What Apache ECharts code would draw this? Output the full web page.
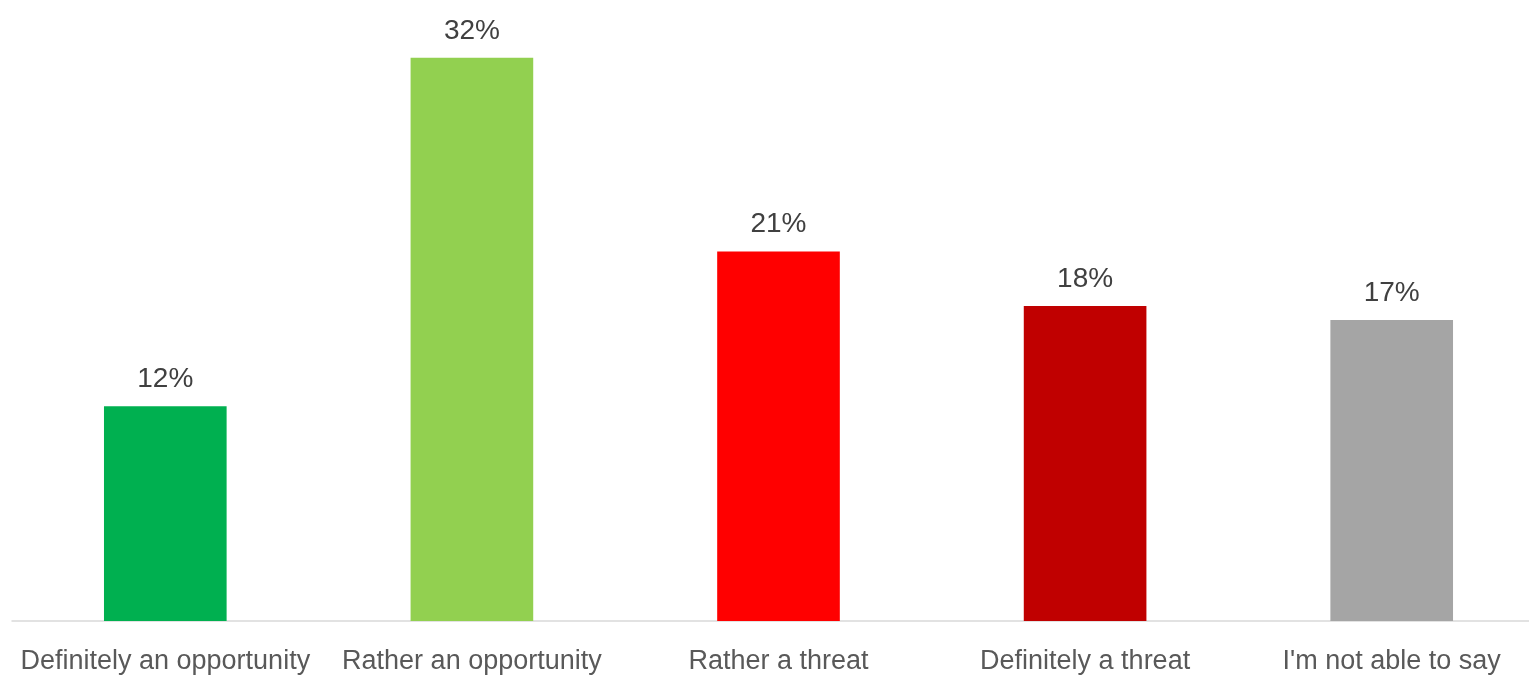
<!DOCTYPE html>
<html>
<head>
<meta charset="utf-8">
<script src="https://cdn.jsdelivr.net/npm/echarts@6/dist/echarts.min.js"></script>
<style>
html,body{margin:0;padding:0;background:#fff;overflow:hidden;width:1529px;height:677px;}
#chart{width:1545px;height:677px;}
</style>
</head>
<body>
<div id="chart"></div>
<script>
const categories = ["Definitely an opportunity", "Rather an opportunity", "Rather a threat", "Definitely a threat", "I'm not able to say"];
const values = [12.2, 32, 21, 17.9, 17.1];
const labels = ["12%", "32%", "21%", "18%", "17%"];
const colors = ["#00B050", "#92D050", "#FF0000", "#C00000", "#A5A5A5"];

const FONT = "'Liberation Sans', Arial, sans-serif";
const chart = echarts.init(document.getElementById('chart'));
chart.setOption({
  animation: false,
  grid: { left: 12, top: 5, right: 0, bottom: 56, containLabel: false },
  xAxis: {
    type: 'category',
    data: categories,
    axisLine: { show: true, lineStyle: { color: '#D9D9D9', width: 1.5 } },
    axisTick: { show: false },
    axisLabel: { color: '#595959', fontSize: 27, fontFamily: FONT, margin: 27, interval: 0 }
  },
  yAxis: {
    type: 'value', min: 0, max: 35,
    show: false,
    splitLine: { show: false }
  },
  series: [{
    type: 'bar',
    barWidth: '40%',
    data: values.map((v, i) => ({ value: v, itemStyle: { color: colors[i] } })),
    label: {
      show: true, position: 'top', distance: 13,
      color: '#404040', fontSize: 28, fontFamily: FONT,
      formatter: p => labels[p.dataIndex]
    }
  }]
});
</script>
</body>
</html>
